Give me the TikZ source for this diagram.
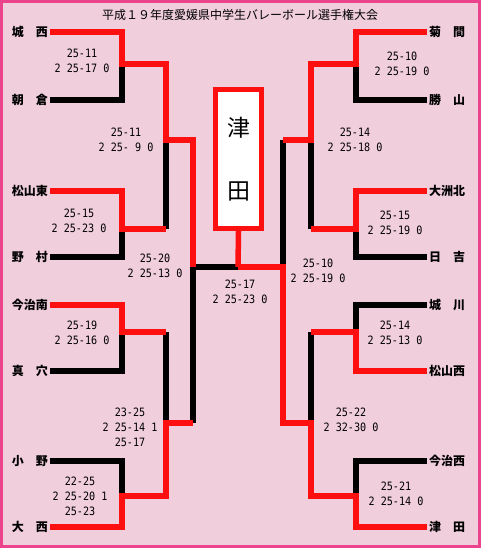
\documentclass[tikz,border=0pt]{standalone}
\usepackage{fontspec}
\usepackage{tikz}
\usetikzlibrary{positioning}
\newfontfamily\jpfont{Noto Sans CJK JP}
\newfontfamily\scorefont[FakeStretch=0.88]{DejaVu Sans Mono}
\definecolor{framepink}{RGB}{236,68,140}
\definecolor{backpink}{RGB}{240,206,220}
\definecolor{winred}{RGB}{255,16,16}

\tikzset{
  winner/.style={draw=winred, line width=5.5pt},
  loser/.style={draw=black, line width=5.5pt},
  team/.style={font=\jpfont\bfseries\fontsize{12}{12}\selectfont, inner sep=0pt},
  score/.style={font=\scorefont\fontsize{11.5}{15}\selectfont, align=center, inner sep=0pt},
}

\begin{document}
\begin{tikzpicture}[x=1pt, y=-1pt]
    % Frame and background
    \useasboundingbox (0,0) rectangle (481,548);
    \draw[draw=framepink, fill=backpink, line width=3pt] (1.5,1.5) rectangle (479.5,546.5);
    \node[font=\jpfont\fontsize{12}{12}\selectfont] (title) at (240,15) {平成１９年度愛媛県中学生バレーボール選手権大会};

    % Line ends of the teams
    \coordinate (L1) at (50,32);  \coordinate (L2) at (50,100);
    \coordinate (L3) at (50,191); \coordinate (L4) at (50,257);
    \coordinate (L5) at (50,305); \coordinate (L6) at (50,371);
    \coordinate (L7) at (50,461); \coordinate (L8) at (50,527);
    \coordinate (R1) at (427,32);  \coordinate (R2) at (427,100);
    \coordinate (R3) at (427,191); \coordinate (R4) at (427,257);
    \coordinate (R5) at (427,305); \coordinate (R6) at (427,371);
    \coordinate (R7) at (427,461); \coordinate (R8) at (427,527);

    % Junctions
    \coordinate (la) at (122,64);  \coordinate (lb) at (122,229);
    \coordinate (lc) at (122,332); \coordinate (ld) at (122,496);
    \coordinate (ra) at (356,64);  \coordinate (rb) at (356,229);
    \coordinate (rc) at (356,332); \coordinate (rd) at (356,496);
    \coordinate (le) at (166,140); \coordinate (lf) at (166,423);
    \coordinate (re) at (311,140); \coordinate (rf) at (311,423);
    \coordinate (lg) at (193,267); \coordinate (rg) at (283,267);
    \coordinate (ct) at (238,267);

    % Losing lines
    \draw[loser] (L2) -| (la);
    \draw[loser] (L4) -| (lb);
    \draw[loser] (L6) -| (lc);
    \draw[loser] (L7) -| (ld);
    \draw[loser] (le) -- (le |- lb);
    \draw[loser] (lf) -- (lf |- lc);
    \draw[loser] (lg) -- (lg |- lf);
    \draw[loser] (lg) -- (ct);
    \draw[loser] (R2) -| (ra);
    \draw[loser] (R4) -| (rb);
    \draw[loser] (R5) -| (rc);
    \draw[loser] (R7) -| (rd);
    \draw[loser] (re) -- (re |- rb);
    \draw[loser] (rf) -- (rf |- rc);
    \draw[loser] (rg) -- (rg |- re);

    % Winning lines
    \draw[winner] (L1) -| (la) -| (le) -| (lg);
    \draw[winner] (L3) -| (lb) -- (lb -| le);
    \draw[winner] (L5) -| (lc) -- (lc -| lf);
    \draw[winner] (L8) -| (ld) -| (lf) -- (lf -| lg);
    \draw[winner] (R1) -| (ra) -| (re) -- (re -| rg);
    \draw[winner] (R3) -| (rb) -- (rb -| re);
    \draw[winner] (R6) -| (rc) -- (rc -| rf);
    \draw[winner] (R8) -| (rd) -| (rf) -| (rg) -- (ct);

    % Champion
    \node[draw=winred, fill=white, line width=5pt, minimum width=46pt, minimum height=139pt, inner sep=0pt,
          align=center, font=\jpfont\fontsize{23}{27}\selectfont] (champ) at (238.5,159) {津\\[36pt]田};
    \draw[winner] (ct) -- (champ.south);

    % Teams
    \node[team, anchor=east] (t1) at (48,32) {城　西};
    \node[team, anchor=east] (t2) at (48,100) {朝　倉};
    \node[team, anchor=east] (t3) at (48,191) {松山東};
    \node[team, anchor=east] (t4) at (48,257) {野　村};
    \node[team, anchor=east] (t5) at (48,305) {今治南};
    \node[team, anchor=east] (t6) at (48,371) {真　穴};
    \node[team, anchor=east] (t7) at (48,461) {小　野};
    \node[team, anchor=east] (t8) at (48,527) {大　西};
    \node[team, anchor=west] (u1) at (429,32) {菊　間};
    \node[team, anchor=west] (u2) at (429,100) {勝　山};
    \node[team, anchor=west] (u3) at (429,191) {大洲北};
    \node[team, anchor=west] (u4) at (429,257) {日　吉};
    \node[team, anchor=west] (u5) at (429,305) {城　川};
    \node[team, anchor=west] (u6) at (429,371) {松山西};
    \node[team, anchor=west] (u7) at (429,461) {今治西};
    \node[team, anchor=west] (u8) at (429,527) {津　田};

    % Scores
    \node[score] (s1) at (82,61) {25-11\\2 25-17 0};
    \node[score] (s2) at (79,221) {25-15\\2 25-23 0};
    \node[score] (s3) at (82,333) {25-19\\2 25-16 0};
    \node[score] (s4) at (80,496) {22-25\\2 25-20 1\\25-23};
    \node[score] (s5) at (126,140) {25-11\\2 25- 9 0};
    \node[score] (s6) at (130,427) {23-25\\2 25-14 1\\25-17};
    \node[score] (s7) at (155,266) {25-20\\2 25-13 0};
    \node[score] (s8) at (240,292) {25-17\\2 25-23 0};
    \node[score] (s9) at (318,271) {25-10\\2 25-19 0};
    \node[score] (s10) at (355,140) {25-14\\2 25-18 0};
    \node[score] (s11) at (351,420) {25-22\\2 32-30 0};
    \node[score] (s12) at (402,64) {25-10\\2 25-19 0};
    \node[score] (s13) at (395,223) {25-15\\2 25-19 0};
    \node[score] (s14) at (395,333) {25-14\\2 25-13 0};
    \node[score] (s15) at (396,494) {25-21\\2 25-14 0};
\end{tikzpicture}
\end{document}
